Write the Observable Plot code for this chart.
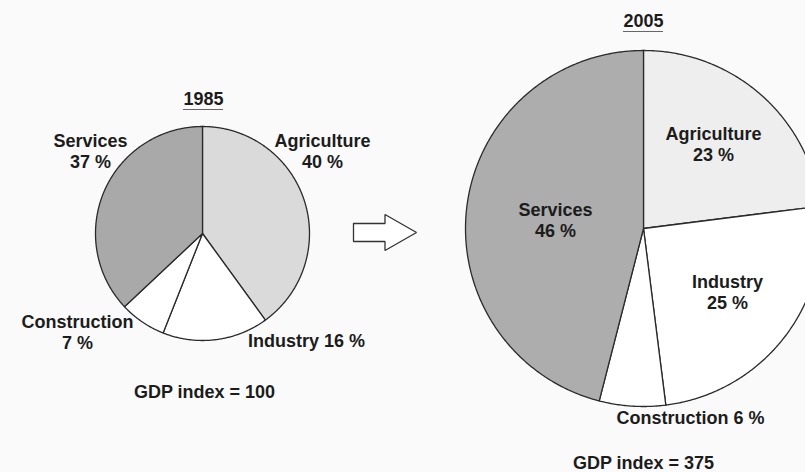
<!DOCTYPE html>
<html>
<head>
<meta charset="utf-8">
<script src="https://cdn.jsdelivr.net/npm/d3@7"></script>
<script src="https://cdn.jsdelivr.net/npm/@observablehq/plot@0.6"></script>
<style>
  html, body { margin: 0; padding: 0; background: #fafafa; overflow: hidden; }
  #chart svg { overflow: hidden; display: block; }
</style>
</head>
<body>
<div id="chart"></div>
<script>
// ---- Data ----
const years = ["1985", "2005"];
const sectors1985 = ["Agriculture", "Industry", "Construction", "Services"];
const shares1985 = [40, 16, 7, 37];
const sectors2005 = ["Agriculture", "Industry", "Construction", "Services"];
const shares2005 = [23, 25, 6, 46];
const gdpIndex = [100, 375];

// ---- Layout / style (not data) ----
const W = 805, H = 472;
const FONT = "Liberation Sans, Arial, Helvetica, sans-serif";
const pieLayout = [
  {cx: 202, cy: 233, r: 107, fills: {Agriculture: "#dadada", Industry: "#ffffff", Construction: "#ffffff", Services: "#a9a9a9"}},
  {cx: 643, cy: 228, r: 178, fills: {Agriculture: "#eeeeee", Industry: "#ffffff", Construction: "#ffffff", Services: "#adadad"}}
];
// label anchor positions per pie: [x, y, twoLines]
const labelLayout = [
  {Agriculture: [322, 141, true], Industry: [306, 341, false], Construction: [77, 322, true], Services: [90, 141, true]},
  {Agriculture: [713, 134, true], Industry: [727, 282, true], Construction: [690, 418, false], Services: [555, 210, true]}
];
const titleLayout = [[203, 99], [643, 21]];
const gdpLayout = [[204, 392], [643, 463]];
const LINE = 21;

const sectorSets = [sectors1985, sectors2005];
const shareSets = [shares1985, shares2005];

// build wedges from data via d3.pie
function wedges(sectors, shares, L) {
  const arcs = d3.pie().sort(null).value(d => d)(shares);
  return arcs.map((a, i) => {
    const pts = [{x: L.cx, y: L.cy}];
    const n = Math.max(2, Math.ceil((a.endAngle - a.startAngle) / (Math.PI / 360)));
    for (let k = 0; k <= n; k++) {
      const ang = a.startAngle + (a.endAngle - a.startAngle) * k / n;
      pts.push({x: L.cx + L.r * Math.sin(ang), y: L.cy - L.r * Math.cos(ang)});
    }
    pts.push({x: L.cx, y: L.cy});
    return {sector: sectors[i], pts, fill: L.fills[sectors[i]]};
  });
}

const marks = [];
years.forEach((yr, p) => {
  const ws = wedges(sectorSets[p], shareSets[p], pieLayout[p]);
  ws.forEach(w => {
    marks.push(Plot.line(w.pts, {x: "x", y: "y", fill: w.fill, stroke: "#2a2a2a", strokeWidth: 1.3, strokeLinejoin: "round", curve: "linear"}));
  });
  // labels
  const texts = [];
  sectorSets[p].forEach((s, i) => {
    const [lx, ly, two] = labelLayout[p][s];
    const pct = `${shareSets[p][i]} %`;
    if (two) {
      texts.push({x: lx, y: ly, t: s});
      texts.push({x: lx, y: ly + LINE, t: pct});
    } else {
      texts.push({x: lx, y: ly, t: `${s} ${pct}`});
    }
  });
  texts.push({x: titleLayout[p][0], y: titleLayout[p][1], t: yr});
  texts.push({x: gdpLayout[p][0], y: gdpLayout[p][1], t: `GDP index = ${gdpIndex[p]}`});
  marks.push(Plot.text(texts, {x: "x", y: "y", text: "t", fontSize: 18, fontWeight: "bold", fontFamily: FONT, fill: "#1c1c1c"}));
  // underline of year title
  marks.push(Plot.ruleY([titleLayout[p][1] + 10], {x1: titleLayout[p][0] - 20, x2: titleLayout[p][0] + 20, stroke: "#666", strokeWidth: 1}));
});

// transition arrow (decorative outline, relative shape)
const arrowBox = {x: 353, y: 214, w: 63, h: 36};
const arrowShape = [[0, 0.25], [0.5, 0.25], [0.5, 0], [1, 0.5], [0.5, 1], [0.5, 0.75], [0, 0.75], [0, 0.25]];
marks.push(Plot.line(arrowShape.map(([u, v]) => ({x: arrowBox.x + u * arrowBox.w, y: arrowBox.y + v * arrowBox.h})),
  {x: "x", y: "y", fill: "#ffffff", stroke: "#333", strokeWidth: 1.3, strokeLinejoin: "miter", curve: "linear"}));

const chart = Plot.plot({
  width: W, height: H, margin: 0,
  style: {background: "#fafafa", overflow: "hidden"},
  x: {domain: [0, W], range: [0, W], axis: null},
  y: {domain: [0, H], range: [0, H], axis: null},
  marks
});
document.getElementById("chart").append(chart);
</script>
</body>
</html>
